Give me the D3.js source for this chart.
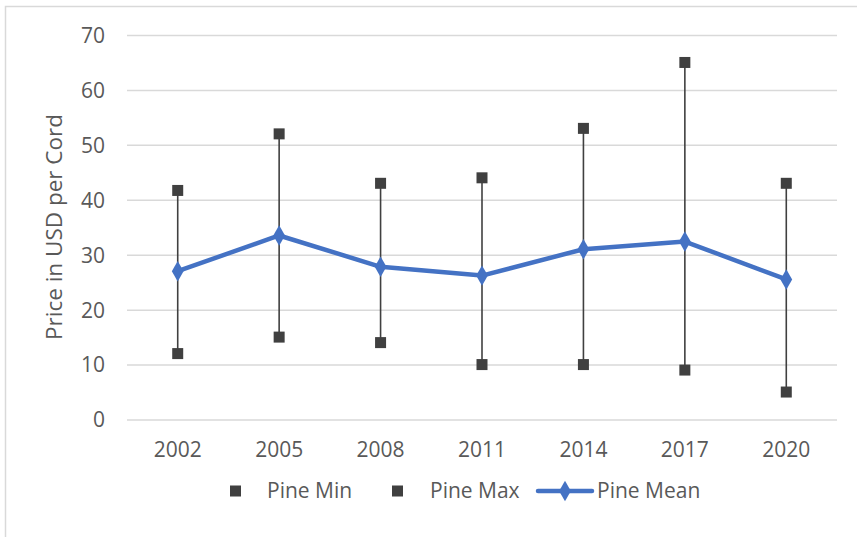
<!DOCTYPE html>
<html><head><meta charset="utf-8">
<script src="https://cdn.jsdelivr.net/npm/d3@7"></script>
<style>body{margin:0;background:#fff}svg{display:block}text{font-family:"Open Sans",sans-serif;fill:#595959}</style>
</head><body><svg id="c" width="857" height="537"></svg>
<script>
const years = ["2002","2005","2008","2011","2014","2017","2020"];
const pineMin = [12, 15, 14, 10, 10, 9, 5];
const pineMax = [41.7, 52, 43, 44, 53, 65, 43];
const pineMean = [27, 33.5, 27.8, 26.2, 31, 32.4, 25.5];
const yTicks = [0,10,20,30,40,50,60,70];
const legendLabels = ["Pine Min","Pine Max","Pine Mean"];

const svg = d3.select("#c");
const dark = "#404040", blue = "#4472C4", grid = "#d9d9d9";
svg.append("rect").attr("x",5.5).attr("y",6.5).attr("width",900).attr("height",600)
  .attr("fill","none").attr("stroke",grid).attr("stroke-width",1.5);

const x = d3.scaleBand().domain(years).range([127,837]);
const y = d3.scaleLinear().domain([0,70]).range([419.5,35]);
const cx = d => x(d)+x.bandwidth()/2;

const gy = svg.append("g").attr("transform","translate(127,0)")
  .call(d3.axisLeft(y).tickValues(yTicks).tickSize(-710).tickPadding(22));
gy.select(".domain").remove();
gy.selectAll(".tick line").attr("stroke",grid).attr("stroke-width",1.5);
gy.selectAll(".tick text").style("font-size","21px").attr("fill","#595959").attr("dy","0.35em");

const gx = svg.append("g").attr("transform","translate(0,419.5)")
  .call(d3.axisBottom(x).tickSize(0).tickPadding(23));
gx.select(".domain").remove();
gx.selectAll(".tick text").style("font-size","21px").attr("fill","#595959");

svg.append("text").attr("transform","translate(62,227) rotate(-90)")
  .attr("text-anchor","middle").style("font-size","22.5px").text("Price in USD per Cord");

const g = svg.append("g");
g.selectAll("line.rng").data(years).join("line").attr("class","rng")
  .attr("x1",cx).attr("x2",cx)
  .attr("y1",(d,i)=>y(pineMin[i])).attr("y2",(d,i)=>y(pineMax[i]))
  .attr("stroke",dark).attr("stroke-width",1.6);
const sq = 11;
[pineMin,pineMax].forEach(arr=>{
  g.selectAll(null).data(years).join("rect")
    .attr("x",d=>cx(d)-sq/2).attr("y",(d,i)=>y(arr[i])-sq/2)
    .attr("width",sq).attr("height",sq).attr("fill",dark);
});
const line = d3.line().x((d,i)=>cx(years[i])).y(d=>y(d));
g.append("path").datum(pineMean).attr("d",line).attr("fill","none")
  .attr("stroke",blue).attr("stroke-width",4.5).attr("stroke-linejoin","round");
const dia = d3.symbol().type(d3.symbolDiamond).size(120);
g.selectAll(null).data(pineMean).join("path")
  .attr("d",dia).attr("transform",(d,i)=>`translate(${cx(years[i])},${y(d)})`).attr("fill",blue);

// legend
const ly = 491;
const lg = svg.append("g");
lg.append("rect").attr("x",230).attr("y",ly-5.5).attr("width",11).attr("height",11).attr("fill",dark);
lg.append("text").attr("x",267).attr("y",ly).attr("dy","0.35em").style("font-size","21px").text(legendLabels[0]);
lg.append("rect").attr("x",392).attr("y",ly-5.5).attr("width",11).attr("height",11).attr("fill",dark);
lg.append("text").attr("x",430).attr("y",ly).attr("dy","0.35em").style("font-size","21px").text(legendLabels[1]);
lg.append("line").attr("x1",538).attr("x2",592).attr("y1",ly).attr("y2",ly).attr("stroke",blue).attr("stroke-width",4.5).attr("stroke-linecap","round");
lg.append("path").attr("d",dia).attr("transform",`translate(565,${ly})`).attr("fill",blue);
lg.append("text").attr("x",597).attr("y",ly).attr("dy","0.35em").style("font-size","21px").text(legendLabels[2]);
</script></body></html>
